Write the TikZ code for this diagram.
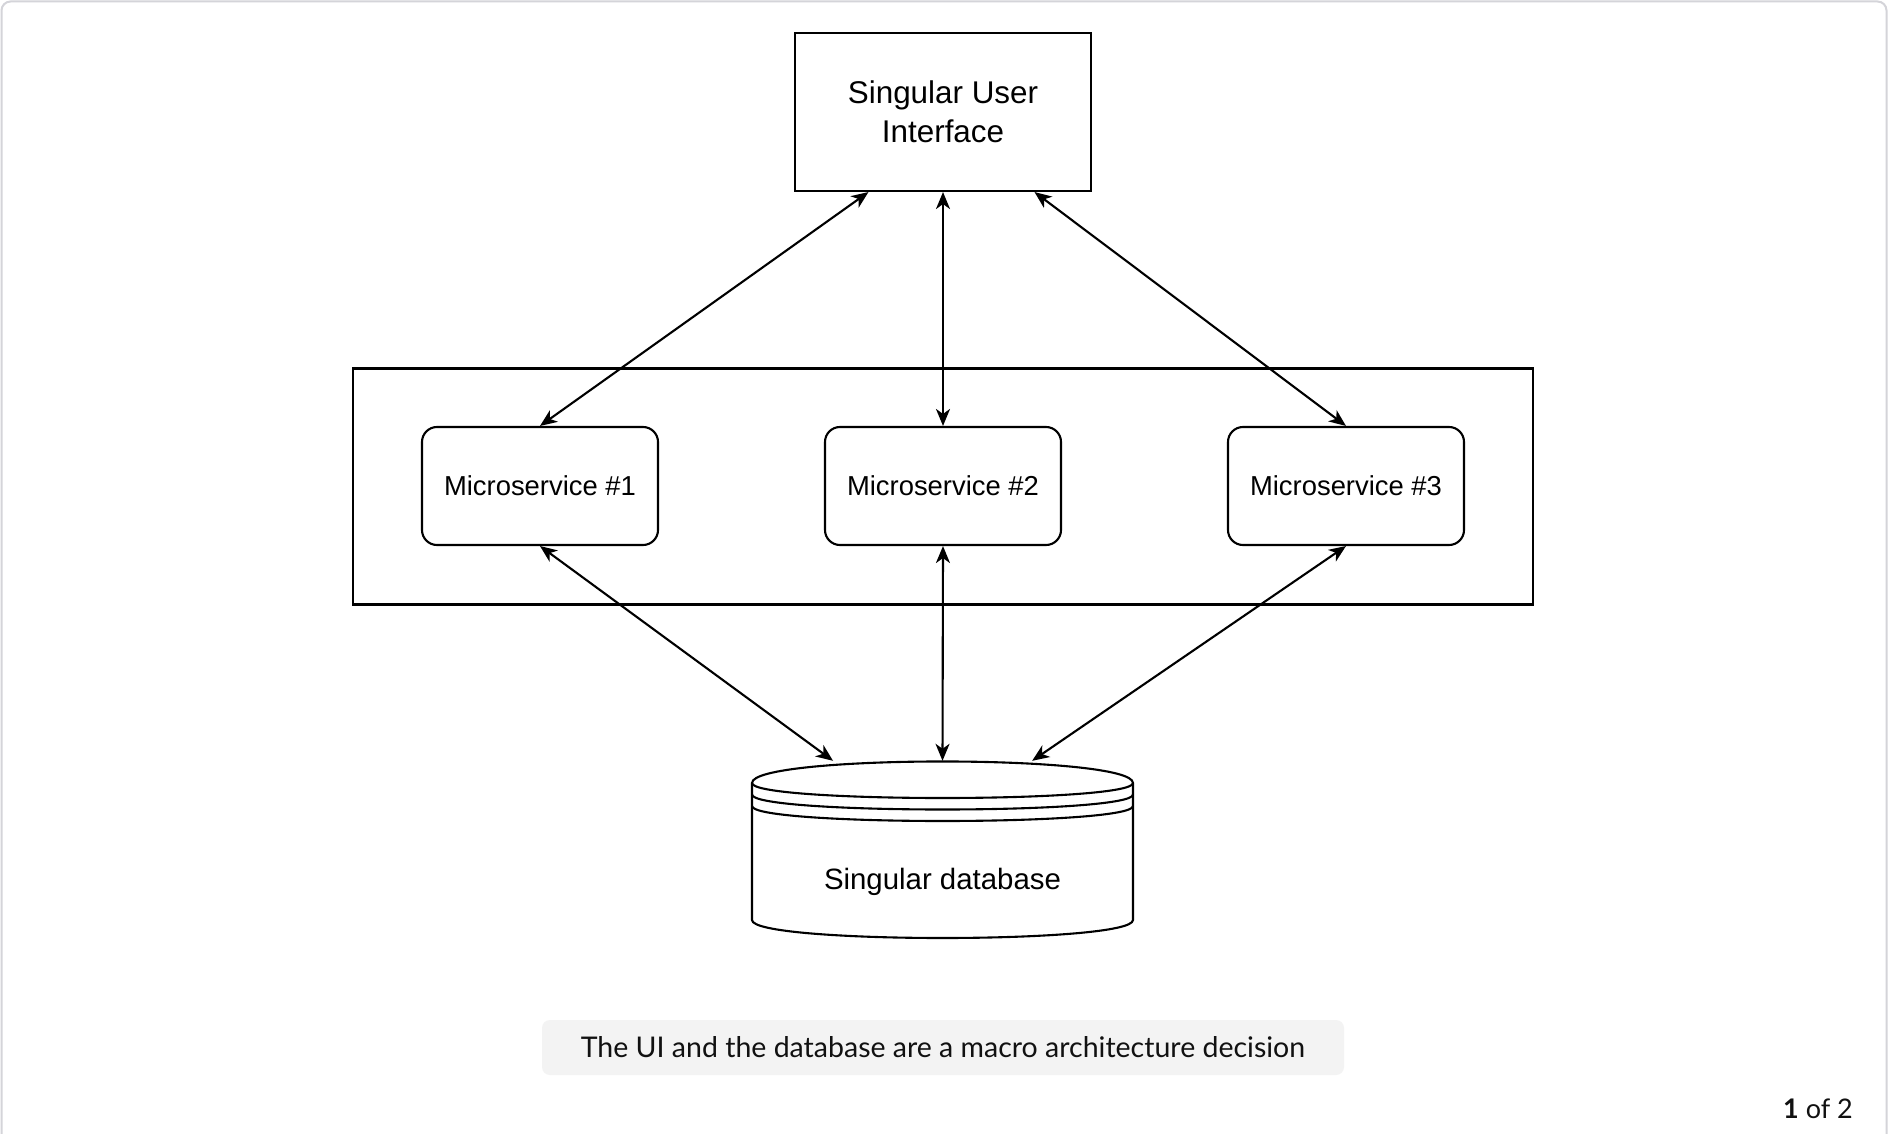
\documentclass[tikz,border=0pt]{standalone}
\usepackage{fontspec}
\setmainfont{Liberation Sans}
\newfontfamily\capfont{Lato}
\usetikzlibrary{arrows.meta,calc}
\definecolor{framegray}{HTML}{D4D4D9}
\definecolor{capfill}{HTML}{F3F3F3}
\definecolor{captext}{HTML}{111111}
\tikzset{
  box/.style={draw=black, line width=2.1pt, fill=white, inner sep=0pt, align=center},
  svc/.style={box, rounded corners=15pt, minimum width=236pt, minimum height=118pt, font=\fontsize{27.4}{32}\selectfont},
  conn/.style={line width=2.1pt, {Stealth[length=17pt,width=14pt,inset=5pt]}-{Stealth[length=17pt,width=14pt,inset=5pt]}},
  dbline/.style={draw=black, line width=2.1pt}
}
\begin{document}
\begin{tikzpicture}[x=1pt,y=-1pt]
\useasboundingbox (0,0) rectangle (1888,1134);
\fill[white] (0,0) rectangle (1888,1134);
\draw[framegray, line width=2pt, rounded corners=9pt] (1.5,1.5) rectangle (1886.5,1160);

% container
\node[draw=black, line width=2.1pt, minimum width=1180pt, minimum height=236pt, inner sep=0pt] (cont) at (943,486.5) {};

% UI
\node[box, minimum width=296pt, minimum height=158pt, font=\fontsize{31.4}{38.5}\selectfont] (ui) at (943,112) {Singular User\\Interface};

% microservices
\node[svc] (m1) at (540,486) {Microservice \#1};
\node[svc] (m2) at (943,486) {Microservice \#2};
\node[svc] (m3) at (1346,486) {Microservice \#3};

% database cylinder
\filldraw[dbline, fill=white] (752,783) .. controls (752,754.3) and (1133,754.3) .. (1133,783)
  -- (1133,920) .. controls (1133,944) and (752,944) .. (752,920) -- cycle;
\draw[dbline] (752,783) .. controls (752,803) and (1133,803) .. (1133,783);
\draw[dbline] (752,794.5) .. controls (752,814.5) and (1133,814.5) .. (1133,794.5);
\draw[dbline] (752,806) .. controls (752,826) and (1133,826) .. (1133,806);
\node[draw=none, minimum width=381pt, minimum height=177pt, inner sep=0pt] (db) at (942.5,849.5) {};
\node[font=\fontsize{29.4}{34}\selectfont, inner sep=0pt] (dblabel) at (942.5,881.5) {Singular database};

% connectors
\draw[conn] ($(ui.south west)!0.25!(ui.south east)$) -- (m1.north);
\draw[conn] (ui.south) -- (m2.north);
\draw[conn] ($(ui.south west)!0.807!(ui.south east)$) -- (m3.north);
\draw[conn] (m1.south) -- ($(db.north west)!0.213!(db.north east)$);
\draw[conn] (m2.south) -- (db.north);
\draw[conn] (m3.south) -- ($(db.north west)!0.735!(db.north east)$);

% caption
\node[fill=capfill, rounded corners=8pt, minimum width=802pt, minimum height=55pt, inner sep=0pt, text=captext, font=\capfont\fontsize{28.5}{33}\selectfont] (cap) at (943,1047.5) {The UI and the database are a macro architecture decision};

% page counter
\node[anchor=east, inner sep=0pt, text=captext, font=\capfont\fontsize{27}{31}\selectfont] (pg) at (1853,1109) {\textbf{1} of 2};
\end{tikzpicture}
\end{document}
